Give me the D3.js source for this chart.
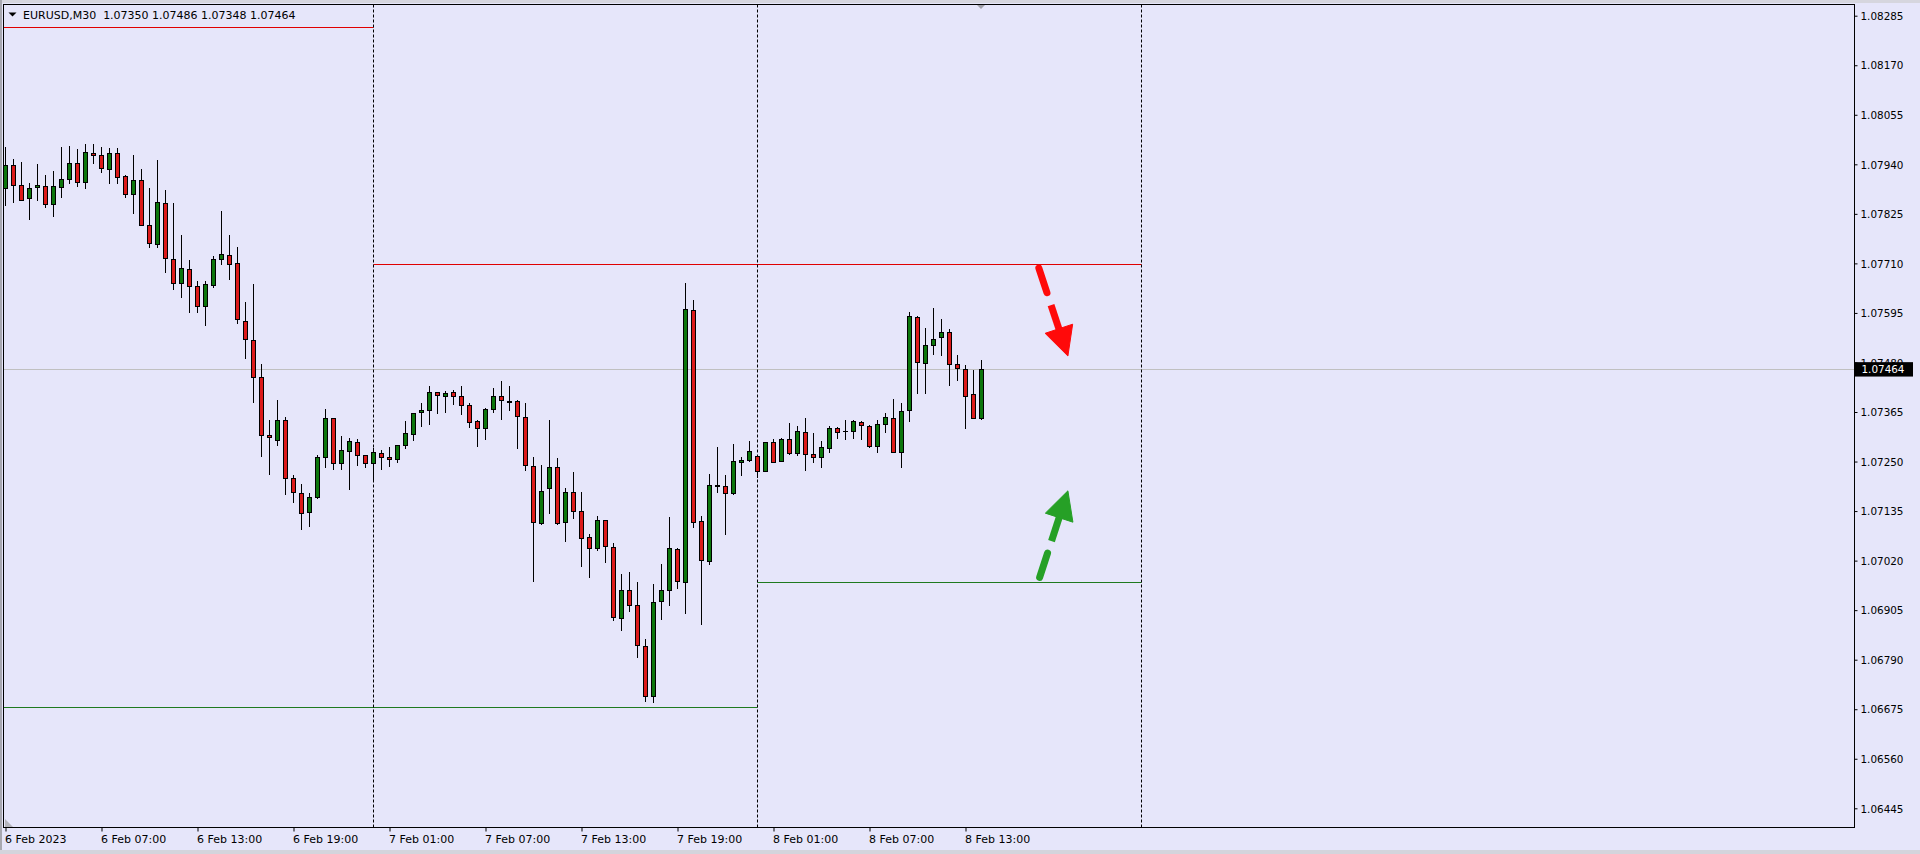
<!DOCTYPE html>
<html><head><meta charset="utf-8">
<script src="https://cdn.jsdelivr.net/npm/d3@7"></script>
<style>html,body{margin:0;padding:0;background:#E6E6FA;overflow:hidden}</style>
</head><body><svg id="chart" width="1920" height="854"></svg>
<script>
// ---------------- data ----------------
const symbolTitle = "EURUSD,M30";
const firstBarTime = "2023-02-06T01:00";
const barMinutes = 30;

const opens = [1.07884,1.07939,1.07892,1.07861,1.07887,1.07890,1.07849,1.07887,1.07905,1.07942,
1.07900,1.07966,1.07961,1.07928,1.07966,1.07913,1.07870,1.07904,1.07799,1.07754,
1.07850,1.07720,1.07664,1.07696,1.07658,1.07610,1.07660,1.07720,1.07729,1.07710,
1.07577,1.07531,1.07446,1.07312,1.07300,1.07347,1.07211,1.07176,1.07132,1.07167,
1.07261,1.07350,1.07246,1.07275,1.07296,1.07265,1.07246,1.07269,1.07260,1.07255,
1.07288,1.07313,1.07364,1.07369,1.07411,1.07401,1.07411,1.07401,1.07381,1.07343,
1.07327,1.07371,1.07401,1.07390,1.07390,1.07353,1.07239,1.07107,1.07188,1.07237,
1.07109,1.07179,1.07135,1.07074,1.07049,1.07114,1.07051,1.06886,1.06951,1.06916,
1.06821,1.06705,1.06926,1.06951,1.07046,1.06970,1.07601,1.07111,1.07018,1.07193,
1.07193,1.07176,1.07249,1.07254,1.07263,1.07229,1.07295,1.07252,1.07302,1.07270,
1.07318,1.07268,1.07261,1.07282,1.07327,1.07320,1.07320,1.07341,1.07332,1.07285,
1.07336,1.07350,1.07271,1.07369,1.07585,1.07478,1.07520,1.07538,1.07550,1.07476,
1.07464,1.07406,1.07350];
const highs = [1.07981,1.07952,1.07945,1.07896,1.07941,1.07915,1.07925,1.07980,1.07983,1.07976,
1.07987,1.07987,1.07980,1.07977,1.07977,1.07915,1.07962,1.07928,1.07884,1.07950,
1.07880,1.07851,1.07776,1.07718,1.07668,1.07670,1.07726,1.07832,1.07776,1.07747,
1.07620,1.07662,1.07477,1.07347,1.07393,1.07354,1.07219,1.07198,1.07176,1.07265,
1.07372,1.07350,1.07309,1.07304,1.07302,1.07265,1.07281,1.07277,1.07283,1.07288,
1.07343,1.07362,1.07385,1.07425,1.07411,1.07413,1.07416,1.07425,1.07385,1.07346,
1.07374,1.07420,1.07436,1.07425,1.07394,1.07385,1.07260,1.07241,1.07346,1.07258,
1.07188,1.07226,1.07180,1.07081,1.07124,1.07114,1.07062,1.06989,1.06994,1.06970,
1.06839,1.06966,1.07012,1.07122,1.07050,1.07665,1.07625,1.07124,1.07220,1.07283,
1.07218,1.07290,1.07260,1.07298,1.07263,1.07295,1.07302,1.07304,1.07339,1.07333,
1.07352,1.07316,1.07298,1.07333,1.07331,1.07346,1.07346,1.07343,1.07334,1.07346,
1.07362,1.07395,1.07387,1.07596,1.07587,1.07559,1.07606,1.07580,1.07557,1.07497,
1.07473,1.07462,1.07486];
const lows = [1.07846,1.07853,1.07856,1.07812,1.07857,1.07842,1.07819,1.07863,1.07897,1.07890,
1.07886,1.07942,1.07921,1.07897,1.07897,1.07863,1.07826,1.07798,1.07747,1.07747,
1.07689,1.07650,1.07631,1.07596,1.07598,1.07566,1.07656,1.07709,1.07673,1.07571,
1.07491,1.07389,1.07263,1.07220,1.07288,1.07174,1.07155,1.07093,1.07101,1.07165,
1.07238,1.07232,1.07232,1.07186,1.07241,1.07238,1.07206,1.07232,1.07240,1.07248,
1.07281,1.07299,1.07333,1.07336,1.07362,1.07366,1.07383,1.07360,1.07330,1.07285,
1.07303,1.07364,1.07348,1.07370,1.07282,1.07230,1.06973,1.07104,1.07130,1.07104,
1.07066,1.07120,1.07008,1.06981,1.07044,1.07016,1.06882,1.06858,1.06902,1.06796,
1.06693,1.06691,1.06884,1.06916,1.06956,1.06898,1.07097,1.06874,1.07011,1.07179,
1.07081,1.07174,1.07218,1.07252,1.07215,1.07229,1.07250,1.07252,1.07268,1.07265,
1.07231,1.07250,1.07238,1.07273,1.07304,1.07303,1.07305,1.07303,1.07283,1.07271,
1.07319,1.07271,1.07238,1.07343,1.07408,1.07410,1.07500,1.07498,1.07428,1.07440,
1.07329,1.07350,1.07348];
const closes = [1.07939,1.07892,1.07857,1.07884,1.07892,1.07849,1.07890,1.07905,1.07942,1.07898,
1.07968,1.07961,1.07931,1.07966,1.07911,1.07870,1.07904,1.07798,1.07757,1.07853,
1.07722,1.07664,1.07699,1.07658,1.07612,1.07662,1.07720,1.07731,1.07708,1.07580,
1.07534,1.07446,1.07312,1.07306,1.07347,1.07211,1.07179,1.07130,1.07167,1.07260,
1.07350,1.07246,1.07277,1.07298,1.07265,1.07246,1.07271,1.07260,1.07255,1.07288,
1.07316,1.07362,1.07369,1.07411,1.07404,1.07408,1.07401,1.07381,1.07341,1.07327,
1.07371,1.07401,1.07392,1.07389,1.07355,1.07241,1.07109,1.07181,1.07237,1.07107,
1.07179,1.07135,1.07072,1.07049,1.07114,1.07053,1.06888,1.06951,1.06916,1.06823,
1.06705,1.06923,1.06951,1.07049,1.06972,1.07603,1.07109,1.07021,1.07195,1.07195,
1.07176,1.07251,1.07254,1.07274,1.07227,1.07295,1.07250,1.07302,1.07270,1.07321,
1.07268,1.07261,1.07284,1.07328,1.07319,1.07322,1.07343,1.07334,1.07285,1.07336,
1.07353,1.07271,1.07367,1.07587,1.07480,1.07520,1.07534,1.07550,1.07476,1.07466,
1.07403,1.07350,1.07464];

const priceTicks = [1.06445,1.06560,1.06675,1.06790,1.06905,1.07020,1.07135,1.07250,1.07365,
1.07480,1.07595,1.07710,1.07825,1.07940,1.08055,1.08170,1.08285];

const timeLabelTimes = ["2023-02-06T01:00","2023-02-06T07:00","2023-02-06T13:00","2023-02-06T19:00",
"2023-02-07T01:00","2023-02-07T07:00","2023-02-07T13:00","2023-02-07T19:00",
"2023-02-08T01:00","2023-02-08T07:00","2023-02-08T13:00"];
const timeLabels = ["6 Feb 2023","6 Feb 07:00","6 Feb 13:00","6 Feb 19:00","7 Feb 01:00","7 Feb 07:00",
"7 Feb 13:00","7 Feb 19:00","8 Feb 01:00","8 Feb 07:00","8 Feb 13:00"];

const separatorTimes = ["2023-02-07T00:00","2023-02-08T00:00","2023-02-09T00:00"];

const levelPrices = [1.08258, 1.07709, 1.06680, 1.06970];
const levelStarts = ["2023-02-06T00:00","2023-02-07T00:00","2023-02-06T00:00","2023-02-08T00:00"];
const levelEnds   = ["2023-02-07T00:00","2023-02-09T00:00","2023-02-08T00:00","2023-02-09T00:00"];
const levelColors = ["#e00000","#e00000","#1f7a1f","#1f7a1f"];

// hand-drawn arrows (time, price)
const arrowStartTimes = ["2023-02-08T17:35","2023-02-08T17:38"];
const arrowStartPrices = [1.07699, 1.06981];
const arrowTipTimes = ["2023-02-08T19:24","2023-02-08T19:24"];
const arrowTipPrices = [1.07495, 1.07182];
const arrowColors = ["#ff0a0a","#26a026"];

const lastPrice = 1.07464;
const dayDomain = ["2023-02-06T00:00","2023-02-09T00:00"];
const yDomain = [1.06445, 1.08285];

// ---------------- drawing ----------------
const W = 1920, H = 854;
const L = 3.5, T = 4.5, R = 1854.5, B = 827.5;
const parse = d3.timeParse("%Y-%m-%dT%H:%M");
const font = "'DejaVu Sans', Verdana, sans-serif";

const x = d3.scaleTime().domain(dayDomain.map(parse)).range([-10.5, 1141.5]);
const y = d3.scaleLinear().domain(yDomain).range([808.3, 15.7]);

const t0 = parse(firstBarTime);
const bars = opens.map((o,i)=>({t:new Date(t0.getTime()+i*barMinutes*60000), o, h:highs[i], l:lows[i], c:closes[i]}));

const svg = d3.select("#chart");
svg.append("rect").attr("width",W).attr("height",H).attr("fill","#E6E6FA");
svg.append("rect").attr("x",0).attr("y",0).attr("width",W).attr("height",3).attr("fill","#d6d6de");
svg.append("rect").attr("x",0).attr("y",0).attr("width",2).attr("height",H).attr("fill","#a8a8b0");
svg.append("rect").attr("x",0).attr("y",850).attr("width",W).attr("height",4).attr("fill","#d4d4dc");

svg.append("defs").append("clipPath").attr("id","plotclip")
  .append("rect").attr("x",L).attr("y",T).attr("width",R-L).attr("height",B-T);
const g = svg.append("g").attr("clip-path","url(#plotclip)");

// level lines
levelPrices.forEach((p,i)=>{
  const yy = Math.round(y(p))+0.5;
  g.append("line").attr("x1",x(parse(levelStarts[i]))).attr("x2",x(parse(levelEnds[i])))
   .attr("y1",yy).attr("y2",yy).attr("stroke",levelColors[i]).attr("stroke-width",1);
});

// current price line
const yLast = Math.round(y(lastPrice))+0.5;
g.append("line").attr("x1",L).attr("x2",R).attr("y1",yLast).attr("y2",yLast)
  .attr("stroke","#c0c0c0").attr("stroke-width",1);

// separators
separatorTimes.forEach(s=>{
  const xx = x(parse(s));
  g.append("line").attr("x1",xx).attr("x2",xx).attr("y1",T).attr("y2",B)
   .attr("stroke","#000").attr("stroke-width",1).attr("stroke-dasharray","3,2");
});

// candles
const cg = g.append("g");
bars.forEach(d=>{
  const cx = x(d.t);
  cg.append("line").attr("x1",cx).attr("x2",cx)
    .attr("y1",Math.round(y(d.h))).attr("y2",Math.round(y(d.l))+1)
    .attr("stroke","#000").attr("stroke-width",1);
  const yt = Math.round(y(Math.max(d.o,d.c)))+0.5;
  const yb = Math.round(y(Math.min(d.o,d.c)))+0.5;
  if (yb - yt < 1) {
    cg.append("line").attr("x1",cx-2.5).attr("x2",cx+2.5).attr("y1",yt).attr("y2",yt)
      .attr("stroke","#000").attr("stroke-width",1);
  } else {
    cg.append("rect").attr("x",cx-2).attr("y",yt).attr("width",4).attr("height",yb-yt)
      .attr("fill", d.c>=d.o ? "#0c760c" : "#dc1a1a")
      .attr("stroke","#000").attr("stroke-width",1);
  }
});

// arrows
arrowColors.forEach((col,i)=>{
  const S = [x(parse(arrowStartTimes[i])), y(arrowStartPrices[i])];
  const Tp = [x(parse(arrowTipTimes[i])), y(arrowTipPrices[i])];
  const dx = Tp[0]-S[0], dy = Tp[1]-S[1], len = Math.hypot(dx,dy);
  const u = [dx/len, dy/len], n = [-u[1], u[0]];
  const at = f => [S[0]+u[0]*len*f, S[1]+u[1]*len*f];
  const line = d3.line();
  const a1 = at(0), a2 = at(0.28), b1 = at(0.42), b2 = at(0.71), hb = at(0.69);
  g.append("path").attr("d",line([a1,a2])).attr("stroke",col).attr("stroke-width",7)
    .attr("stroke-linecap","round").attr("fill","none");
  g.append("path").attr("d",line([b1,b2])).attr("stroke",col).attr("stroke-width",7)
    .attr("stroke-linecap","butt").attr("fill","none");
  const hw = 14.5;
  g.append("path").attr("d",line([[hb[0]+n[0]*hw,hb[1]+n[1]*hw],Tp,[hb[0]-n[0]*hw,hb[1]-n[1]*hw]])+"Z")
    .attr("fill",col).attr("stroke",col).attr("stroke-width",1).attr("stroke-linejoin","round");
});

// frame
svg.append("rect").attr("x",L).attr("y",T).attr("width",R-L).attr("height",B-T)
  .attr("fill","none").attr("stroke","#000").attr("stroke-width",1);

// shift markers
svg.append("path").attr("d",d3.line()([[977,5],[985,5],[981,9]])+"Z").attr("fill","#a0a0a8");
svg.append("path").attr("d",d3.line()([[5,819],[5,827],[13,827]])+"Z").attr("fill","#b4b4bc");

// right price axis
const yAxis = d3.axisRight(y).tickValues(priceTicks).tickFormat(d3.format(".5f"))
  .tickSize(3).tickPadding(3);
const ya = svg.append("g").attr("transform",`translate(${R},0)`).call(yAxis);
ya.select(".domain").remove();
ya.selectAll("line").attr("stroke","#000");
ya.selectAll("text").attr("font-family",font).attr("font-size","10.4px").attr("fill","#000")
  .attr("dy","0.36em");

// bottom time axis
const xAxis = d3.axisBottom(x).tickValues(timeLabelTimes.map(parse))
  .tickFormat((d,i)=>timeLabels[i]).tickSize(4).tickPadding(4);
const xa = svg.append("g").attr("transform",`translate(0,${B})`).call(xAxis);
xa.select(".domain").remove();
xa.selectAll("line").attr("stroke","#000");
xa.selectAll("text").attr("font-family",font).attr("font-size","11px").attr("fill","#000")
  .attr("text-anchor","start").attr("dx","-1").attr("y",8).attr("dy","0.71em");

// current price box
svg.append("rect").attr("x",R+0.5).attr("y",y(lastPrice)-7.2).attr("width",58).attr("height",14.4).attr("fill","#000");
svg.append("text").attr("x",R+7).attr("y",y(lastPrice)).attr("dy","0.36em")
  .attr("font-family",font).attr("font-size","10.4px").attr("fill","#fff").text(d3.format(".5f")(lastPrice));

// header
svg.append("path").attr("d",d3.line()([[8.5,12.5],[16.5,12.5],[12.5,16.5]])+"Z").attr("fill","#000");
svg.append("text").attr("x",23).attr("y",18.8).attr("font-family",font).attr("font-size","11px").attr("fill","#000")
  .attr("xml:space","preserve")
  .text(`${symbolTitle}  ${d3.format(".5f")(opens[opens.length-1])} ${d3.format(".5f")(highs[highs.length-1])} ${d3.format(".5f")(lows[lows.length-1])} ${d3.format(".5f")(closes[closes.length-1])}`);
</script></body></html>
